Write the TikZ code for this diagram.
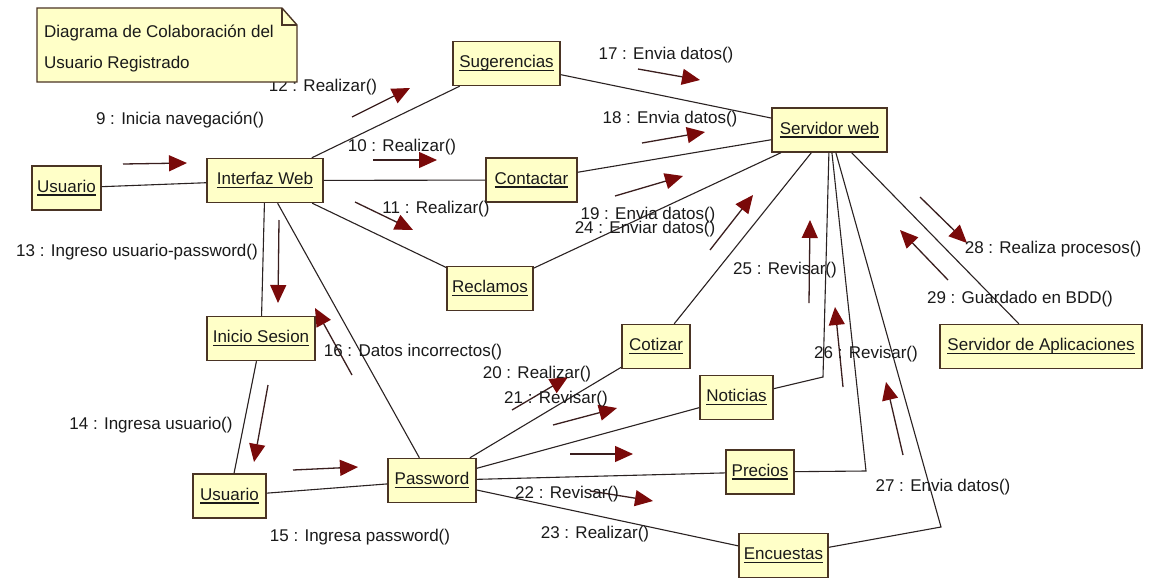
\documentclass[tikz,border=0pt]{standalone}
\usepackage{fontspec}
\setmainfont{Liberation Sans}
\usetikzlibrary{arrows.meta}
\definecolor{boxfill}{HTML}{FFFFC8}
\definecolor{boxline}{HTML}{4A3424}
\definecolor{linkline}{HTML}{2A2222}
\definecolor{arrowred}{HTML}{7A0A0A}
\definecolor{msgline}{HTML}{3A1E1E}
\definecolor{txt}{HTML}{1A1A1A}
% object name with a fixed-depth underline
\newcommand\ulname[1]{\setbox0\hbox{#1}\rlap{\rule[-3.4pt]{\wd0}{1.3pt}}\box0}

\begin{document}
\begin{tikzpicture}[x=1pt,y=-1pt,
  font=\fontsize{17}{20}\selectfont,
  obj/.style={draw=boxline, fill=boxfill, line width=1.4pt, minimum height=44pt,
              inner sep=0pt, text height=12.5pt, text depth=4pt, text=txt},
  link/.style={draw=linkline, line width=1.1pt},
  msg/.style={draw=msgline, line width=1.3pt,
              -{Triangle[length=18pt,width=16pt,color=arrowred]}},
  lbl/.style={inner sep=0pt, text height=12.2pt, text depth=0pt, text=txt}]

\useasboundingbox[fill=white] (0,0) rectangle (1157,579);

% objects
\node[obj, minimum width=69pt]  (usr1) at (66.5,188)   {\ulname{Usuario}};
\node[obj, minimum width=116pt] (iweb) at (265,180.5)  {\ulname{Interfaz Web}};
\node[obj, minimum width=107pt] (sug)  at (506.5,63.5) {\ulname{Sugerencias}};
\node[obj, minimum width=91pt]  (cont) at (531.5,180)  {\ulname{Contactar}};
\node[obj, minimum width=115pt] (serv) at (829.5,130)  {\ulname{Servidor web}};
\node[obj, minimum width=86pt]  (recl) at (490,288.5)  {\ulname{Reclamos}};
\node[obj, minimum width=68pt]  (cot)  at (656,346.5)  {\ulname{Cotizar}};
\node[obj, minimum width=73pt]  (noti) at (736.5,397.5){\ulname{Noticias}};
\node[obj, minimum width=68pt]  (prec) at (760,472)    {\ulname{Precios}};
\node[obj, minimum width=89pt]  (enc)  at (783.5,555.5){\ulname{Encuestas}};
\node[obj, minimum width=202pt] (sapp) at (1041,346.5) {\ulname{Servidor de Aplicaciones}};
\node[obj, minimum width=108pt] (ini)  at (261,338.5)  {\ulname{Inicio Sesion}};
\node[obj, minimum width=73pt]  (usr2) at (229.5,496)  {\ulname{Usuario}};
\node[obj, minimum width=88pt]  (pass) at (432,480.5)  {\ulname{Password}};

% bend points of the links to the web server
\coordinate (bn) at (823,377);
\coordinate (bp) at (866,471);
\coordinate (be) at (941,527);

% links
\draw[link] (usr1) -- (iweb);
\draw[link] (iweb) -- (sug);
\draw[link] (iweb) -- (cont);
\draw[link] (iweb) -- (recl);
\draw[link] (iweb) -- (ini);
\draw[link] (iweb) -- (pass);
\draw[link] (ini) -- (usr2);
\draw[link] (usr2) -- (pass);
\draw[link] (sug) -- (serv);
\draw[link] (cont) -- (serv);
\draw[link] (recl) -- (serv);
\draw[link] (cot) -- (serv);
\draw[link] (serv) -- (sapp);
\draw[link] (pass) -- (cot);
\draw[link] (pass) -- (noti);
\draw[link] (pass) -- (prec);
\draw[link] (pass) -- (enc);
\draw[link] (noti) -- (bn) -- (serv);
\draw[link] (prec) -- (bp) -- (serv);
\draw[link] (enc) -- (be) -- (serv);

% message arrows
\coordinate (m9a)  at (123,164); \coordinate (m9b)  at (187,163);
\coordinate (m12a) at (352,117); \coordinate (m12b) at (410,88);
\coordinate (m10a) at (373,160); \coordinate (m10b) at (437,160);
\coordinate (m11a) at (355,202); \coordinate (m11b) at (413,230);
\coordinate (m17a) at (638,69);  \coordinate (m17b) at (700,80);
\coordinate (m18a) at (642,143); \coordinate (m18b) at (705,132);
\coordinate (m19a) at (615,196); \coordinate (m19b) at (683,176);
\coordinate (m24a) at (710,250); \coordinate (m24b) at (753,195);
\coordinate (m13a) at (279,220); \coordinate (m13b) at (278,303);
\coordinate (m16a) at (352,375); \coordinate (m16b) at (315,308);
\coordinate (m14a) at (268,385); \coordinate (m14b) at (254,462);
\coordinate (m15a) at (293,470); \coordinate (m15b) at (358,467);
\coordinate (m20a) at (512,410); \coordinate (m20b) at (568,377);
\coordinate (m21a) at (553,425); \coordinate (m21b) at (617,408);
\coordinate (mpa)  at (570,454); \coordinate (mpb)  at (633,454);
\coordinate (m22a) at (590,491); \coordinate (m22b) at (653,501);
\coordinate (m25a) at (809,303); \coordinate (m25b) at (810,220);
\coordinate (m26a) at (843,387); \coordinate (m26b) at (835,307);
\coordinate (m27a) at (903,455); \coordinate (m27b) at (886,382);
\coordinate (m28a) at (920,197); \coordinate (m28b) at (967,243);
\coordinate (m29a) at (948,280); \coordinate (m29b) at (900,230);
\foreach \m in {9,12,10,11,17,18,19,24,13,16,14,15,20,21,22,25,26,27,28,29}
  \draw[msg] (m\m a) -- (m\m b);
\draw[msg] (mpa) -- (mpb);

% message labels
\node[lbl] (l9)  at (180,118)  {9 : Inicia navegación()};
\node[lbl] (l12) at (323,85)   {12 : Realizar()};
\node[lbl] (l10) at (402,145)  {10 : Realizar()};
\node[lbl] (l11) at (436,207)  {11 : Realizar()};
\node[lbl] (l17) at (666,53)   {17 : Envia datos()};
\node[lbl] (l18) at (670,117)  {18 : Envia datos()};
\node[lbl] (l19) at (648,213)  {19 : Envia datos()};
\node[lbl] (l24) at (645,227)  {24 : Enviar datos()};
\node[lbl] (l13) at (137,250)  {13 : Ingreso usuario-password()};
\node[lbl] (l16) at (413,350)  {16 : Datos incorrectos()};
\node[lbl] (l14) at (151,423)  {14 : Ingresa usuario()};
\node[lbl] (l15) at (360,535)  {15 : Ingresa password()};
\node[lbl] (l20) at (537,372)  {20 : Realizar()};
\node[lbl] (l21) at (556,397)  {21 : Revisar()};
\node[lbl] (l22) at (567,492)  {22 : Revisar()};
\node[lbl] (l23) at (595,532)  {23 : Realizar()};
\node[lbl] (l25) at (785,268)  {25 : Revisar()};
\node[lbl] (l26) at (866,352)  {26 : Revisar()};
\node[lbl] (l27) at (943,485)  {27 : Envia datos()};
\node[lbl] (l28) at (1053,247) {28 : Realiza procesos()};
\node[lbl] (l29) at (1020,297) {29 : Guardado en BDD()};

% note with folded corner
\draw[boxline, fill=boxfill, line width=1.4pt]
  (37,8) -- (282,8) -- (297,25) -- (297,82) -- (37,82) -- cycle;
\draw[boxline, line width=1.1pt] (282,8) -- (282,25) -- (297,25);
\node[lbl, anchor=west] (n1) at (44,31) {Diagrama de Colaboración del};
\node[lbl, anchor=west] (n2) at (44,62) {Usuario Registrado};
\end{tikzpicture}
\end{document}
